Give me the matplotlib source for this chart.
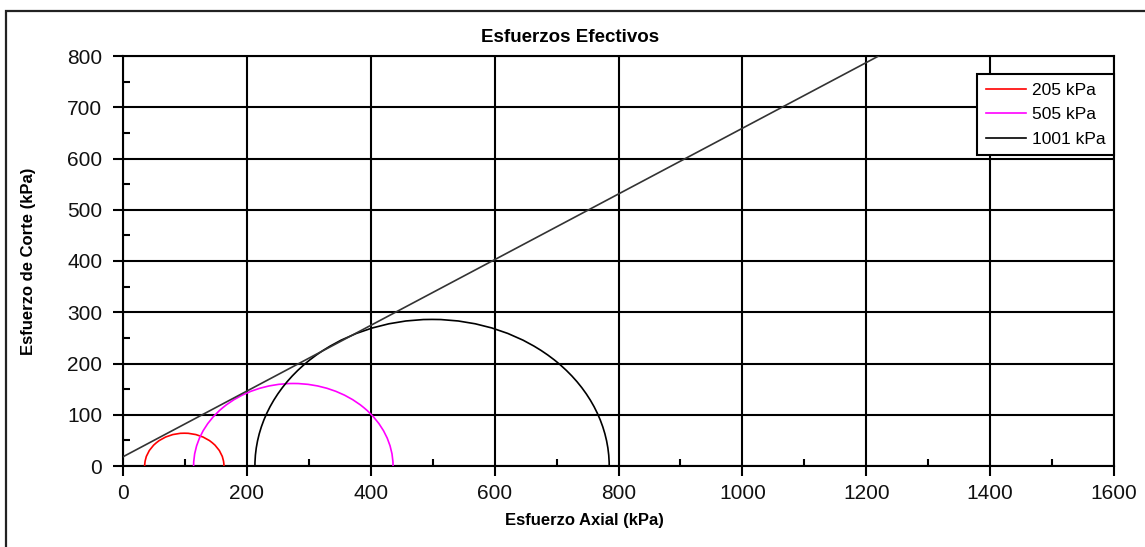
import numpy as np
import matplotlib
matplotlib.use('Agg')
import matplotlib.pyplot as plt
from matplotlib.patches import Arc, Rectangle
from matplotlib.ticker import MultipleLocator

plt.rcParams['font.family'] = ['Liberation Sans', 'DejaVu Sans']

# ---- data ----
labels = ['205 kPa', '505 kPa', '1001 kPa']
colors = ['#ff0000', '#ff00ff', '#000000']
centers = [99, 275, 499]     # kPa
radii = [64, 161, 286]       # kPa

envelope_x = [0, 1220]
envelope_y = [18, 800]

x_ticks = [0, 200, 400, 600, 800, 1000, 1200, 1400, 1600]
y_ticks = [0, 100, 200, 300, 400, 500, 600, 700, 800]

fig = plt.figure(figsize=(11.45, 5.47), dpi=100)
ax = fig.add_axes([123 / 1145, 81 / 547, 991 / 1145, 410 / 547])

# outer frame of the chart area (right/bottom run off the picture)
fig.patches.append(Rectangle((5.5 / 1145, -0.2), 1.5, 0.2 + 1 - 10.5 / 547,
                             transform=fig.transFigure, fill=False,
                             edgecolor='#222222', linewidth=1.6))

# Mohr circles (upper halves)
for c, r, col, lab in zip(centers, radii, colors, labels):
    ax.add_patch(Arc((c, 0), 2 * r, 2 * r, theta1=0, theta2=180,
                     color=col, linewidth=1.2, zorder=3))
    ax.plot([], [], color=col, linewidth=1.2, label=lab)

# failure envelope
ax.plot(envelope_x, envelope_y, color='#333333', linewidth=1.2, zorder=3)

ax.set_xlim(0, 1600)
ax.set_ylim(0, 800)
ax.set_xticks(x_ticks)
ax.set_yticks(y_ticks)
ax.xaxis.set_minor_locator(MultipleLocator(100))
ax.yaxis.set_minor_locator(MultipleLocator(50))
ax.tick_params(which='major', direction='out', length=7, width=1.5,
               labelsize=15, labelcolor='#111111')
ax.tick_params(axis='x', which='major', pad=6)
ax.tick_params(axis='y', which='major', pad=8)
ax.tick_params(which='minor', direction='in', length=5, width=1.5)
ax.grid(True, which='major', color='black', linewidth=1.5)
ax.set_axisbelow(True)
for s in ax.spines.values():
    s.set_linewidth(1.5)
    s.set_color('black')

ax.set_title('Esfuerzos Efectivos', fontsize=13.5, fontweight='bold', pad=10, x=0.451)
ax.set_xlabel('Esfuerzo Axial (kPa)', fontsize=12, fontweight='bold', labelpad=6)
ax.xaxis.set_label_coords(0.466, -0.115)
ax.set_ylabel('Esfuerzo de Corte (kPa)', fontsize=12, fontweight='bold', labelpad=22)

leg = ax.legend(loc='upper right', bbox_to_anchor=(1.0, 0.955), fontsize=12.5,
                frameon=True, fancybox=False, handlelength=2.3,
                handletextpad=0.35, borderpad=0.5, labelspacing=0.52,
                borderaxespad=0.0)
leg.get_frame().set_edgecolor('black')
leg.get_frame().set_linewidth(1.5)
leg.get_frame().set_alpha(1)

fig.savefig('out.png', dpi=100)
